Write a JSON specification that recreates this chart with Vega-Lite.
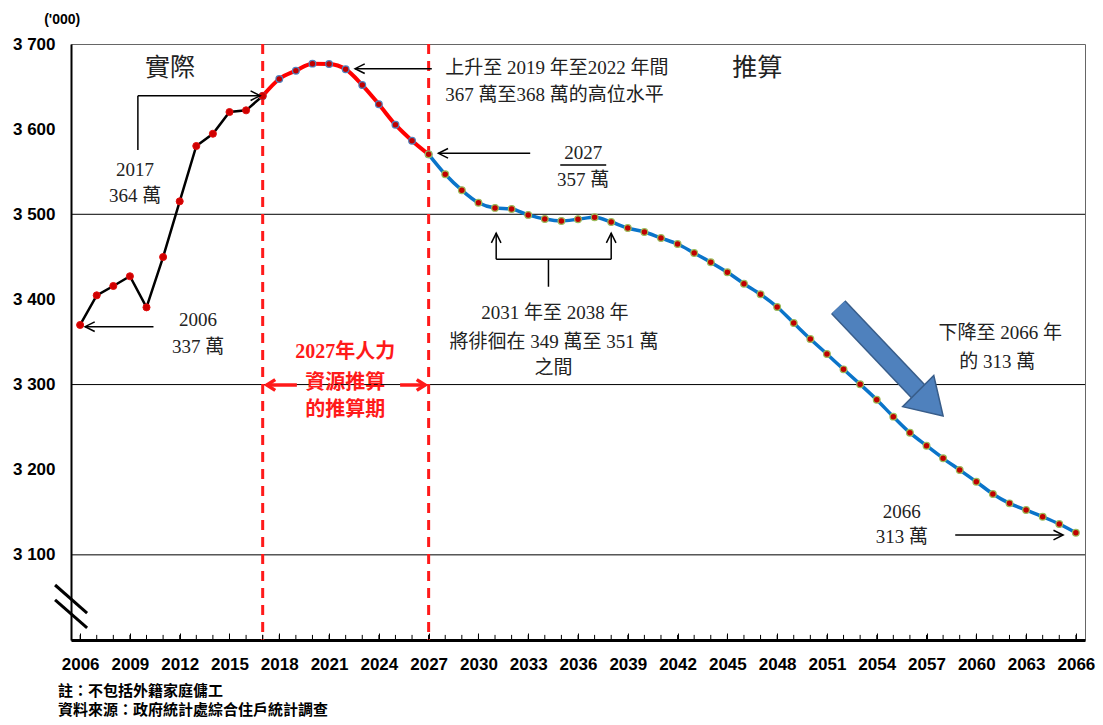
{
  "$schema": "https://vega.github.io/schema/vega-lite/v6.json",
  "width": 1014,
  "height": 596,
  "autosize": {"type": "none"},
  "padding": {"left": 71, "top": 44, "right": 18, "bottom": 85},
  "background": "white",
  "config": {"view": {"stroke": "#666666", "strokeWidth": 1}, "axis": {"labelOverlap": false}},
  "datasets": {
    "series": [
      {"year": 2006, "v": 3370, "s": "a"}, {"year": 2007, "v": 3404.8, "s": "a"}, {"year": 2008, "v": 3415.8, "s": "a"},
      {"year": 2009, "v": 3427.2, "s": "a"}, {"year": 2010, "v": 3390.7, "s": "a"}, {"year": 2011, "v": 3449.8, "s": "a"},
      {"year": 2012, "v": 3515.2, "s": "a"}, {"year": 2013, "v": 3580.2, "s": "a"}, {"year": 2014, "v": 3594.6, "s": "a"},
      {"year": 2015, "v": 3620.1, "s": "a"}, {"year": 2016, "v": 3622.1, "s": "a"}, {"year": 2017, "v": 3639, "s": "a"},
      {"year": 2017, "v": 3639, "s": "p1"}, {"year": 2018, "v": 3658.9, "s": "p1"}, {"year": 2019, "v": 3668.6, "s": "p1"},
      {"year": 2020, "v": 3676.9, "s": "p1"}, {"year": 2021, "v": 3676.5, "s": "p1"}, {"year": 2022, "v": 3670.3, "s": "p1"},
      {"year": 2023, "v": 3651.8, "s": "p1"}, {"year": 2024, "v": 3629.2, "s": "p1"}, {"year": 2025, "v": 3605.2, "s": "p1"},
      {"year": 2026, "v": 3586.4, "s": "p1"}, {"year": 2027, "v": 3570.4, "s": "p1"},
      {"year": 2027, "v": 3570.4, "s": "p2"}, {"year": 2028, "v": 3547, "s": "p2"}, {"year": 2029, "v": 3528.3, "s": "p2"},
      {"year": 2030, "v": 3513.6, "s": "p2"}, {"year": 2031, "v": 3507.5, "s": "p2"}, {"year": 2032, "v": 3506.3, "s": "p2"},
      {"year": 2033, "v": 3499.3, "s": "p2"}, {"year": 2034, "v": 3494.5, "s": "p2"}, {"year": 2035, "v": 3492.2, "s": "p2"},
      {"year": 2036, "v": 3494.2, "s": "p2"}, {"year": 2037, "v": 3496.5, "s": "p2"}, {"year": 2038, "v": 3490.9, "s": "p2"},
      {"year": 2039, "v": 3483.9, "s": "p2"}, {"year": 2040, "v": 3479.2, "s": "p2"}, {"year": 2041, "v": 3472.1, "s": "p2"},
      {"year": 2042, "v": 3465.1, "s": "p2"}, {"year": 2043, "v": 3454.5, "s": "p2"}, {"year": 2044, "v": 3443.6, "s": "p2"},
      {"year": 2045, "v": 3431.9, "s": "p2"}, {"year": 2046, "v": 3418.5, "s": "p2"}, {"year": 2047, "v": 3406, "s": "p2"},
      {"year": 2048, "v": 3391.1, "s": "p2"}, {"year": 2049, "v": 3372.3, "s": "p2"}, {"year": 2050, "v": 3353.5, "s": "p2"},
      {"year": 2051, "v": 3335.9, "s": "p2"}, {"year": 2052, "v": 3317.9, "s": "p2"}, {"year": 2053, "v": 3300.3, "s": "p2"},
      {"year": 2054, "v": 3282.2, "s": "p2"}, {"year": 2055, "v": 3262.3, "s": "p2"}, {"year": 2056, "v": 3243.5, "s": "p2"},
      {"year": 2057, "v": 3228.2, "s": "p2"}, {"year": 2058, "v": 3213.4, "s": "p2"}, {"year": 2059, "v": 3199.7, "s": "p2"},
      {"year": 2060, "v": 3185.9, "s": "p2"}, {"year": 2061, "v": 3171.5, "s": "p2"}, {"year": 2062, "v": 3160.5, "s": "p2"},
      {"year": 2063, "v": 3152.7, "s": "p2"}, {"year": 2064, "v": 3144.8, "s": "p2"}, {"year": 2065, "v": 3136.2, "s": "p2"},
      {"year": 2066, "v": 3126, "s": "p2"}
    ],
    "grid": [{"g": 3100}, {"g": 3300}, {"g": 3500}],
    "periods": [{"p": 2017}, {"p": 2027}],
    "segs": [
      {"x1": 2009.48, "y1": 3575.5, "x2": 2009.48, "y2": 3639.3, "k": "black"},
      {"x1": 2009.48, "y1": 3639.3, "x2": 2016.85, "y2": 3639.3, "k": "black"},
      {"x1": 2010.42, "y1": 3368, "x2": 2006.3, "y2": 3368, "k": "black"},
      {"x1": 2027.19, "y1": 3671, "x2": 2022.57, "y2": 3671, "k": "black"},
      {"x1": 2033.12, "y1": 3571.6, "x2": 2027.59, "y2": 3571.6, "k": "black"},
      {"x1": 2034.93, "y1": 3557.9, "x2": 2037.7, "y2": 3557.9, "k": "black"},
      {"x1": 2031.07, "y1": 3447.1, "x2": 2031.07, "y2": 3477.7, "k": "black"},
      {"x1": 2038.0, "y1": 3447.1, "x2": 2038.0, "y2": 3477.7, "k": "black"},
      {"x1": 2031.07, "y1": 3447.1, "x2": 2038.0, "y2": 3447.1, "k": "black"},
      {"x1": 2034.22, "y1": 3447.1, "x2": 2034.22, "y2": 3414.9, "k": "black"},
      {"x1": 2058.73, "y1": 3123.3, "x2": 2065.23, "y2": 3123.3, "k": "black"},
      {"x1": 2019.06, "y1": 3299.5, "x2": 2017.25, "y2": 3299.5, "k": "red"},
      {"x1": 2025.28, "y1": 3299.5, "x2": 2026.79, "y2": 3299.5, "k": "red"},
      {"x1": 2004.49, "y1": 3064.6, "x2": 2006.42, "y2": 3031.7, "k": "brk"},
      {"x1": 2004.49, "y1": 3047.0, "x2": 2006.42, "y2": 3014.1, "k": "brk"},
      {"x1": 2051.68, "y1": 3391, "x2": 2056.6, "y2": 3290, "k": "fat"}
    ],
    "heads": [
      {"hx": 2016.85, "hy": 3639.3, "ang": 90, "k": "black"},
      {"hx": 2006.3, "hy": 3368, "ang": 270, "k": "black"},
      {"hx": 2022.57, "hy": 3671, "ang": 270, "k": "black"},
      {"hx": 2027.59, "hy": 3571.6, "ang": 270, "k": "black"},
      {"hx": 2031.07, "hy": 3477.7, "ang": 0, "k": "black"},
      {"hx": 2038.0, "hy": 3477.7, "ang": 0, "k": "black"},
      {"hx": 2065.23, "hy": 3123.3, "ang": 90, "k": "black"},
      {"hx": 2017.25, "hy": 3299.5, "ang": 270, "k": "red"},
      {"hx": 2026.79, "hy": 3299.5, "ang": 90, "k": "red"},
      {"hx": 2058.0, "hy": 3263.1, "ang": 135, "k": "fat"}
    ],
    "notes": [
      {"x": 2011.42, "y": 3671.8, "t": "實際", "k": "big"},
      {"x": 2046.8, "y": 3671.8, "t": "推算", "k": "big"},
      {"x": 2009.31, "y": 3552.0, "t": "2017", "k": "serif"},
      {"x": 2009.31, "y": 3521.5, "t": "364 萬", "k": "serif"},
      {"x": 2013.11, "y": 3375.8, "t": "2006", "k": "serif"},
      {"x": 2013.11, "y": 3344.1, "t": "337 萬", "k": "serif"},
      {"x": 2036.31, "y": 3572.0, "t": "2027", "k": "serif"},
      {"x": 2036.31, "y": 3540.3, "t": "357 萬", "k": "serif"},
      {"x": 2034.6, "y": 3383.7, "t": "2031 年至 2038 年", "k": "serif"},
      {"x": 2034.56, "y": 3350.4, "t": "將徘徊在 349 萬至 351 萬", "k": "serif"},
      {"x": 2034.52, "y": 3319.1, "t": "之間", "k": "serif"},
      {"x": 2061.44, "y": 3360.6, "t": "下降至 2066 年", "k": "serif"},
      {"x": 2061.26, "y": 3326.5, "t": "的 313 萬", "k": "serif"},
      {"x": 2055.51, "y": 3150.7, "t": "2066", "k": "serif"},
      {"x": 2055.51, "y": 3121.3, "t": "313 萬", "k": "serif"},
      {"x": 2028.0, "y": 3671.8, "t": "上升至 2019 年至2022 年間", "k": "serifL"},
      {"x": 2028.0, "y": 3640.1, "t": "367 萬至368 萬的高位水平", "k": "serifL"},
      {"x": 2021.97, "y": 3338.2, "t": "2027年人力", "k": "red"},
      {"x": 2021.97, "y": 3301.8, "t": "資源推算", "k": "red"},
      {"x": 2021.97, "y": 3270.1, "t": "的推算期", "k": "red"},
      {"x": 2004.92, "y": 3728.2, "t": "('000)", "k": "unit"},
      {"x": 2004.67, "y": 2940.1, "t": "註：不包括外籍家庭傭工", "k": "foot"},
      {"x": 2004.67, "y": 2917.8, "t": "資料來源：政府統計處綜合住戶統計調查", "k": "foot"}
    ]
  },
  "layer": [
    {
      "data": {"name": "grid"},
      "mark": {"type": "rule", "color": "#000000", "strokeWidth": 1},
      "encoding": {
        "y": {
          "field": "g", "type": "quantitative", "title": null,
          "scale": {"domain": [3000, 3700], "nice": false, "zero": false},
          "axis": {
            "values": [3100, 3200, 3300, 3400, 3500, 3600, 3700],
            "labelExpr": "replace(format(datum.value, ','), ',', ' ')",
            "title": null, "grid": false, "ticks": false,
            "domainColor": "#000000", "domainWidth": 2,
            "labelFont": "Liberation Sans", "labelFontWeight": "bold", "labelFontSize": 17,
            "labelColor": "#000000", "labelPadding": 16
          }
        }
      }
    },
    {
      "data": {"name": "periods"},
      "mark": {"type": "rule", "color": "#ff1a1a", "strokeWidth": 3, "strokeDash": [10, 7]},
      "encoding": {
        "x": {
          "field": "p", "type": "quantitative", "title": null,
          "scale": {"domain": [2005.45, 2066.55], "nice": false, "zero": false},
          "axis": {
            "values": [2006, 2009, 2012, 2015, 2018, 2021, 2024, 2027, 2030, 2033, 2036, 2039, 2042, 2045, 2048, 2051, 2054, 2057, 2060, 2063, 2066],
            "format": "d",
            "title": null, "grid": false,
            "tickSize": -7, "tickColor": "#000000", "tickWidth": 1,
            "domainColor": "#000000", "domainWidth": 3,
            "labelFont": "Liberation Sans", "labelFontWeight": "bold", "labelFontSize": 17,
            "labelColor": "#000000", "labelPadding": 23, "labelFlush": false, "labelOverlap": false
          }
        }
      }
    },
    {
      "data": {"name": "series"},
      "mark": {"type": "rule", "color": "#000000", "strokeWidth": 1},
      "encoding": {
        "x": {"field": "year", "type": "quantitative", "title": null},
        "y": {"datum": 3000, "type": "quantitative", "title": null},
        "y2": {"datum": 3006}
      }
    },
    {
      "data": {"name": "series"},
      "transform": [{"filter": "datum.s == 'a'"}],
      "mark": {"type": "line", "color": "#000000", "strokeWidth": 2.5},
      "encoding": {
        "x": {"field": "year", "type": "quantitative", "title": null},
        "y": {"field": "v", "type": "quantitative", "title": null}
      }
    },
    {
      "data": {"name": "series"},
      "transform": [{"filter": "datum.s == 'p1'"}],
      "mark": {"type": "line", "color": "#ff0000", "strokeWidth": 4, "interpolate": "monotone"},
      "encoding": {
        "x": {"field": "year", "type": "quantitative", "title": null},
        "y": {"field": "v", "type": "quantitative", "title": null}
      }
    },
    {
      "data": {"name": "series"},
      "transform": [{"filter": "datum.s == 'p2'"}],
      "mark": {"type": "line", "color": "#0a74c9", "strokeWidth": 3.5, "interpolate": "monotone"},
      "encoding": {
        "x": {"field": "year", "type": "quantitative", "title": null},
        "y": {"field": "v", "type": "quantitative", "title": null}
      }
    },
    {
      "data": {"name": "series"},
      "transform": [{"filter": "datum.s == 'p1'"}],
      "mark": {"type": "point", "filled": true, "fill": "#c00000", "stroke": "#4f81bd", "strokeWidth": 1.2, "size": 45, "opacity": 1},
      "encoding": {
        "x": {"field": "year", "type": "quantitative", "title": null},
        "y": {"field": "v", "type": "quantitative", "title": null}
      }
    },
    {
      "data": {"name": "series"},
      "transform": [{"filter": "datum.s == 'a'"}],
      "mark": {"type": "point", "filled": true, "fill": "#d00000", "stroke": "#e01010", "strokeWidth": 1, "size": 50, "opacity": 1},
      "encoding": {
        "x": {"field": "year", "type": "quantitative", "title": null},
        "y": {"field": "v", "type": "quantitative", "title": null}
      }
    },
    {
      "data": {"name": "series"},
      "transform": [{"filter": "datum.s == 'p2'"}],
      "mark": {"type": "point", "filled": true, "fill": "#c00000", "stroke": "#9bbb59", "strokeWidth": 1.2, "size": 45, "opacity": 1},
      "encoding": {
        "x": {"field": "year", "type": "quantitative", "title": null},
        "y": {"field": "v", "type": "quantitative", "title": null}
      }
    },
    {
      "data": {"name": "segs"},
      "transform": [{"filter": "datum.k == 'black'"}],
      "mark": {"type": "rule", "color": "#000000", "strokeWidth": 1.5},
      "encoding": {
        "x": {"field": "x1", "type": "quantitative", "title": null},
        "x2": {"field": "x2"},
        "y": {"field": "y1", "type": "quantitative", "title": null},
        "y2": {"field": "y2"}
      }
    },
    {
      "data": {"name": "segs"},
      "transform": [{"filter": "datum.k == 'red'"}],
      "mark": {"type": "rule", "color": "#ff1a1a", "strokeWidth": 3.5},
      "encoding": {
        "x": {"field": "x1", "type": "quantitative", "title": null},
        "x2": {"field": "x2"},
        "y": {"field": "y1", "type": "quantitative", "title": null},
        "y2": {"field": "y2"}
      }
    },
    {
      "data": {"name": "segs"},
      "transform": [{"filter": "datum.k == 'brk'"}],
      "mark": {"type": "rule", "color": "#000000", "strokeWidth": 3},
      "encoding": {
        "x": {"field": "x1", "type": "quantitative", "title": null},
        "x2": {"field": "x2"},
        "y": {"field": "y1", "type": "quantitative", "title": null},
        "y2": {"field": "y2"}
      }
    },
    {
      "data": {"name": "segs"},
      "transform": [{"filter": "datum.k == 'fat'"}],
      "mark": {"type": "rule", "color": "#385d8a", "strokeWidth": 20, "strokeCap": "butt"},
      "encoding": {
        "x": {"field": "x1", "type": "quantitative", "title": null},
        "x2": {"field": "x2"},
        "y": {"field": "y1", "type": "quantitative", "title": null},
        "y2": {"field": "y2"}
      }
    },
    {
      "data": {"name": "segs"},
      "transform": [{"filter": "datum.k == 'fat'"}],
      "mark": {"type": "rule", "color": "#4f81bd", "strokeWidth": 17, "strokeCap": "butt"},
      "encoding": {
        "x": {"field": "x1", "type": "quantitative", "title": null},
        "x2": {"field": "x2"},
        "y": {"field": "y1", "type": "quantitative", "title": null},
        "y2": {"field": "y2"}
      }
    },
    {
      "data": {"name": "heads"},
      "transform": [{"filter": "datum.k == 'black'"}],
      "mark": {"type": "point", "shape": "M-0.8,1.6L0,0L0.8,1.6", "filled": false, "stroke": "#000000", "strokeWidth": 1.5, "size": 144, "opacity": 1},
      "encoding": {
        "x": {"field": "hx", "type": "quantitative", "title": null},
        "y": {"field": "hy", "type": "quantitative", "title": null},
        "angle": {"field": "ang", "type": "quantitative", "scale": null}
      }
    },
    {
      "data": {"name": "heads"},
      "transform": [{"filter": "datum.k == 'red'"}],
      "mark": {"type": "point", "shape": "M-0.9,1.4L0,0L0.9,1.4", "filled": false, "stroke": "#ff1a1a", "strokeWidth": 3.5, "size": 144, "opacity": 1},
      "encoding": {
        "x": {"field": "hx", "type": "quantitative", "title": null},
        "y": {"field": "hy", "type": "quantitative", "title": null},
        "angle": {"field": "ang", "type": "quantitative", "scale": null}
      }
    },
    {
      "data": {"name": "heads"},
      "transform": [{"filter": "datum.k == 'fat'"}],
      "mark": {"type": "point", "shape": "M0,0L-1,1.6L1,1.6Z", "filled": true, "fill": "#4f81bd", "stroke": "#385d8a", "strokeWidth": 1.5, "size": 1936, "opacity": 1},
      "encoding": {
        "x": {"field": "hx", "type": "quantitative", "title": null},
        "y": {"field": "hy", "type": "quantitative", "title": null},
        "angle": {"field": "ang", "type": "quantitative", "scale": null}
      }
    },
    {
      "data": {"name": "notes"},
      "transform": [{"filter": "datum.k == 'big'"}],
      "mark": {"type": "text", "font": "Noto Sans CJK TC", "fontSize": 25, "color": "#222222", "align": "center", "baseline": "middle"},
      "encoding": {
        "x": {"field": "x", "type": "quantitative", "title": null},
        "y": {"field": "y", "type": "quantitative", "title": null},
        "text": {"field": "t"}
      }
    },
    {
      "data": {"name": "notes"},
      "transform": [{"filter": "datum.k == 'serif'"}],
      "mark": {"type": "text", "font": "'Liberation Serif', 'Noto Sans CJK TC'", "fontSize": 19, "color": "#222222", "align": "center", "baseline": "middle"},
      "encoding": {
        "x": {"field": "x", "type": "quantitative", "title": null},
        "y": {"field": "y", "type": "quantitative", "title": null},
        "text": {"field": "t"}
      }
    },
    {
      "data": {"name": "notes"},
      "transform": [{"filter": "datum.k == 'serifL'"}],
      "mark": {"type": "text", "font": "'Liberation Serif', 'Noto Sans CJK TC'", "fontSize": 19, "color": "#222222", "align": "left", "baseline": "middle"},
      "encoding": {
        "x": {"field": "x", "type": "quantitative", "title": null},
        "y": {"field": "y", "type": "quantitative", "title": null},
        "text": {"field": "t"}
      }
    },
    {
      "data": {"name": "notes"},
      "transform": [{"filter": "datum.k == 'red'"}],
      "mark": {"type": "text", "font": "'Liberation Serif', 'Noto Sans CJK TC'", "fontSize": 20, "fontWeight": "bold", "color": "#ff1a1a", "align": "center", "baseline": "middle"},
      "encoding": {
        "x": {"field": "x", "type": "quantitative", "title": null},
        "y": {"field": "y", "type": "quantitative", "title": null},
        "text": {"field": "t"}
      }
    },
    {
      "data": {"name": "notes"},
      "transform": [{"filter": "datum.k == 'unit'"}],
      "mark": {"type": "text", "font": "Liberation Sans", "fontSize": 14, "fontWeight": "bold", "color": "#000000", "align": "center", "baseline": "middle"},
      "encoding": {
        "x": {"field": "x", "type": "quantitative", "title": null},
        "y": {"field": "y", "type": "quantitative", "title": null},
        "text": {"field": "t"}
      }
    },
    {
      "data": {"name": "notes"},
      "transform": [{"filter": "datum.k == 'foot'"}],
      "mark": {"type": "text", "font": "Noto Sans CJK TC", "fontSize": 15, "fontWeight": "bold", "color": "#000000", "align": "left", "baseline": "middle"},
      "encoding": {
        "x": {"field": "x", "type": "quantitative", "title": null},
        "y": {"field": "y", "type": "quantitative", "title": null},
        "text": {"field": "t"}
      }
    }
  ]
}
